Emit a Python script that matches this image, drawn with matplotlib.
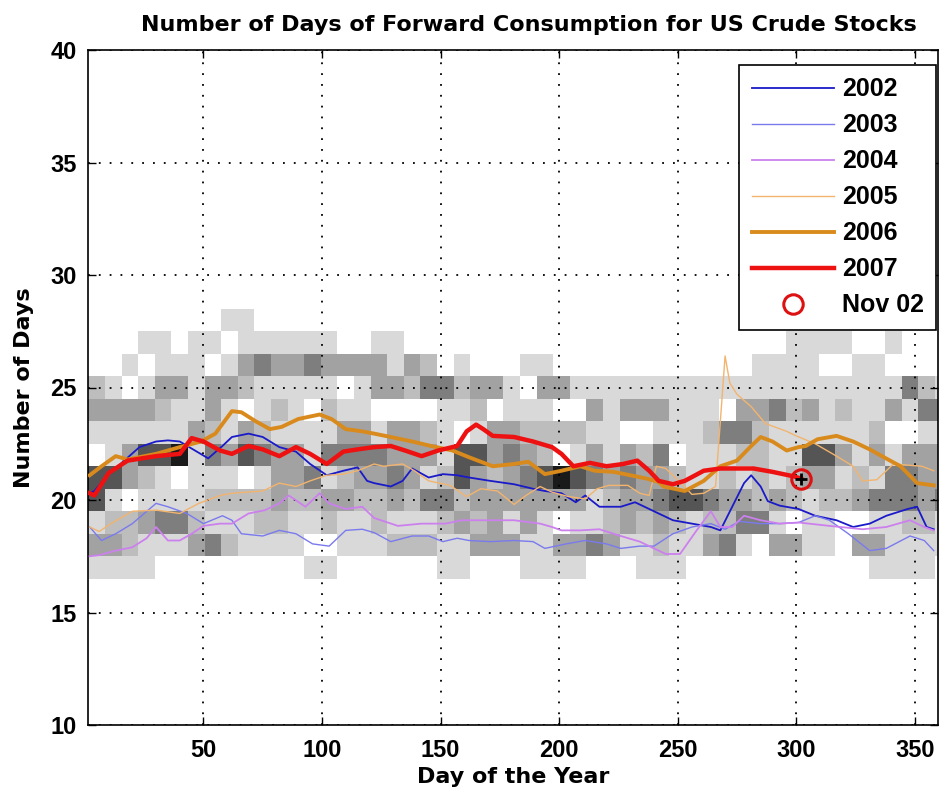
import numpy as np
import matplotlib
matplotlib.use("Agg")
import matplotlib.pyplot as plt
from matplotlib.colors import ListedColormap

plt.rcParams['font.family'] = ['Liberation Sans', 'DejaVu Sans']
plt.rcParams['font.weight'] = 'bold'

# background histogram of past years: rows are whole days of cover (28 at top .. 17),
# one digit per week (0 = empty .. 6 = densest)
hist_rows = [
    "0000000011000" "0000000000000" "0000000000000" "0000000000000",  # 28
    "0001101101111" "1100110000000" "0000000000000" "0001111001000",  # 27
    "0010111013433" "4333313201000" "1100000000000" "0111100110000",  # 26
    "2101331332111" "1101332442331" "0331111111111" "1111111111421",  # 25
    "3333211310121" "0211000011201" "1100313331110" "3342312113144",  # 24
    "1111113213211" "1133133210133" "2222110011124" "4211111120011",  # 23
    "0135561435433" "1444433315534" "3201313240111" "2211553131333",  # 22
    "5532101110133" "4123343125323" "4565434332112" "1212331214433",  # 21
    "5101111222232" "2332232442333" "3333123345543" "3232122344434",  # 20
    "1223442111221" "1211211123231" "3101123232122" "4410110011221",  # 19
    "3321113421111" "0011122211333" "1133431121134" "1033110331111",  # 18
    "1111000000000" "1100000011000" "1111000111000" "0000000011110",  # 17
]
hist_levels = [28, 27, 26, 25, 24, 23, 22, 21, 20, 19, 18, 17]

days_2002 = [2, 4, 10, 15, 23, 30, 35, 40, 44, 52, 58, 62, 69, 75, 82, 89, 95, 102, 109, 115, 119, 122,
             129, 134, 138, 145, 151, 157, 162, 171, 181, 189, 194, 201, 207, 211, 217, 226, 232, 241,
             248, 256, 264, 268, 273, 278, 281, 285, 288, 293, 301, 308, 317, 324, 331, 338, 347, 351,
             355, 358]
vals_2002 = [20.3, 20.4, 21.15, 21.6, 22.35, 22.6, 22.65, 22.6, 22.35, 21.85, 22.4, 22.8, 22.95, 22.8,
             22.35, 22.15, 21.6, 21.1, 21.3, 21.45, 20.85, 20.75, 20.6, 20.85, 21.4, 21.0, 21.15, 21.1,
             21.0, 20.85, 20.7, 20.5, 20.4, 20.3, 19.9, 20.2, 19.7, 19.7, 19.9, 19.45, 19.1, 18.95, 18.8,
             18.65, 19.7, 20.75, 21.1, 20.6, 19.95, 19.75, 19.6, 19.3, 19.1, 18.8, 18.95, 19.3, 19.6,
             19.7, 18.8, 18.7]

days_2003 = [2, 7, 13, 20, 30, 35, 43, 50, 58, 62, 66, 75, 82, 89, 96, 103, 110, 117, 122, 129, 138,
             145, 151, 157, 162, 171, 181, 189, 194, 203, 211, 220, 226, 234, 240, 248, 256, 264, 270,
             276, 285, 293, 301, 308, 314, 322, 331, 338, 348, 354, 358]
vals_2003 = [18.8, 18.2, 18.5, 18.95, 19.85, 19.7, 19.4, 18.95, 19.3, 19.1, 18.5, 18.4, 18.65, 18.5,
             18.05, 17.95, 18.65, 18.7, 18.55, 18.15, 18.4, 18.4, 18.15, 18.3, 18.2, 18.15, 18.2, 18.15,
             17.85, 18.05, 18.2, 18.05, 17.85, 17.95, 17.95, 18.5, 18.8, 18.95, 18.7, 19.05, 18.95,
             18.95, 19.0, 19.3, 19.1, 18.5, 17.75, 17.85, 18.4, 18.2, 17.75]

days_2004 = [2, 6, 13, 20, 26, 30, 35, 40, 45, 50, 57, 62, 69, 76, 82, 86, 93, 99, 103, 110, 117, 122,
             132, 142, 152, 159, 167, 174, 181, 192, 197, 201, 209, 217, 226, 234, 240, 245, 251, 258,
             264, 268, 273, 278, 285, 293, 301, 314, 328, 338, 348, 354, 358]
vals_2004 = [17.5, 17.55, 17.75, 17.9, 18.3, 18.8, 18.2, 18.2, 18.5, 18.85, 18.95, 18.95, 19.4, 19.55,
             19.85, 20.2, 19.7, 20.3, 19.85, 19.6, 19.7, 19.2, 18.85, 18.95, 18.95, 19.1, 19.1, 19.1,
             19.1, 18.95, 18.8, 18.65, 18.65, 18.7, 18.4, 18.15, 17.85, 17.6, 17.6, 18.65, 19.5, 18.8,
             18.8, 19.3, 19.1, 18.95, 19.0, 18.85, 18.7, 18.8, 19.1, 18.8, 18.65]

days_2005 = [2, 6, 11, 20, 30, 40, 48, 57, 62, 75, 82, 89, 95, 102, 109, 115, 122, 126, 134, 139, 145,
             154, 161, 167, 174, 181, 186, 192, 197, 204, 211, 216, 221, 229, 234, 238, 241, 245, 251,
             256, 261, 266, 270, 272, 275, 281, 287, 296, 300, 308, 317, 324, 328, 334, 341, 353, 358]
vals_2005 = [18.8, 18.6, 18.95, 19.5, 19.55, 19.4, 19.85, 20.2, 20.3, 20.4, 20.75, 20.6, 20.85, 21.1,
             21.15, 21.3, 21.6, 21.5, 21.6, 21.3, 20.85, 20.65, 20.15, 20.5, 20.4, 19.8, 20.2, 20.6,
             20.35, 20.15, 20.05, 20.5, 20.65, 20.65, 20.3, 20.2, 21.5, 21.4, 20.8, 20.25, 20.3, 20.6,
             26.4, 25.2, 24.7, 24.15, 23.4, 23.05, 22.85, 22.5, 21.95, 21.5, 20.85, 20.9, 21.6, 21.5,
             21.3]

days_2006 = [2, 7, 13, 18, 30, 40, 49, 55, 62, 66, 72, 78, 83, 90, 99, 104, 110, 117, 122, 129, 138,
             146, 155, 162, 172, 181, 187, 194, 201, 209, 215, 223, 230, 237, 242, 244, 253, 261, 268,
             275, 281, 285, 290, 296, 301, 304, 309, 317, 324, 331, 337, 344, 351, 358]
vals_2006 = [21.1, 21.5, 21.95, 21.8, 22.05, 22.35, 22.6, 22.95, 23.95, 23.9, 23.5, 23.15, 23.25, 23.6,
             23.8, 23.6, 23.15, 23.05, 22.95, 22.8, 22.6, 22.4, 22.2, 21.9, 21.5, 21.6, 21.7, 21.15,
             21.3, 21.5, 21.3, 21.25, 21.1, 20.95, 20.8, 20.6, 20.4, 20.85, 21.5, 21.75, 22.4, 22.8,
             22.6, 22.2, 22.35, 22.4, 22.7, 22.85, 22.6, 22.25, 21.9, 21.5, 20.75, 20.65]

days_2007 = [2, 4, 10, 18, 30, 40, 45, 50, 57, 62, 69, 75, 82, 89, 95, 102, 109, 115, 122, 129, 135,
             142, 149, 157, 161, 165, 168, 172, 181, 189, 197, 201, 206, 213, 220, 227, 233, 238, 242,
             248, 253, 261, 268, 282, 290, 299, 302]
vals_2007 = [20.3, 20.2, 21.2, 21.75, 21.95, 22.05, 22.75, 22.6, 22.2, 22.05, 22.4, 22.25, 21.95, 22.35,
             22.05, 21.6, 22.15, 22.25, 22.35, 22.4, 22.2, 21.95, 22.2, 22.4, 23.05, 23.35, 23.15, 22.85,
             22.8, 22.6, 22.35, 22.05, 21.5, 21.65, 21.5, 21.6, 21.75, 21.3, 20.85, 20.7, 20.85, 21.3,
             21.4, 21.4, 21.25, 21.05, 20.95]

latest_day = 302
latest_value = 20.95
latest_label = "Nov 02"

fig = plt.figure(figsize=(9.39, 7.99), dpi=100)
ax = fig.add_axes([88 / 939, 1 - 725 / 799, 850 / 939, 675 / 799])

# histogram background
counts = np.array([[int(c) for c in row] for row in hist_rows])[::-1]
levels = np.array(hist_levels)[::-1]
x_edges = 1.5 + 7 * np.arange(counts.shape[1] + 1)
y_edges = np.append(levels - 0.5, levels[-1] + 0.5)
grays = ListedColormap(['#ffffff', '#d9d9d9', '#bdbdbd', '#a2a2a2', '#7e7e7e', '#555555', '#1a1a1a'])
ax.pcolormesh(x_edges, y_edges, counts, cmap=grays, vmin=-0.5, vmax=6.5,
              shading='flat', antialiased=False, zorder=1)

ax.plot(days_2002, vals_2002, color='#1a1ac8', lw=1.3, label='2002', zorder=3)
ax.plot(days_2003, vals_2003, color='#7a7aee', lw=1.0, label='2003', zorder=3)
ax.plot(days_2004, vals_2004, color='#cc80ee', lw=1.3, label='2004', zorder=3)
ax.plot(days_2005, vals_2005, color='#f2b46e', lw=1.0, label='2005', zorder=3)
ax.plot(days_2006, vals_2006, color='#d98a1c', lw=2.8, label='2006', zorder=4)
ax.plot(days_2007, vals_2007, color='#ee1111', lw=3.2, label='2007', zorder=5)
ax.plot([latest_day], [latest_value], 'o', mfc='none', mec='#dd1111', ms=14, mew=2.2,
        label=latest_label, zorder=6)
ax.plot([latest_day], [latest_value], '+', color='black', ms=8, mew=2, zorder=7)

ax.set_xlim(1.3, 359.8)
ax.set_ylim(10, 40)
ax.set_xticks([50, 100, 150, 200, 250, 300, 350])
ax.set_yticks([10, 15, 20, 25, 30, 35, 40])
ax.tick_params(direction='in', top=True, right=True, length=6, width=1, labelsize=17)
ax.tick_params(axis='x', pad=10)
ax.tick_params(axis='y', pad=8)
for lab in ax.get_xticklabels() + ax.get_yticklabels():
    lab.set_fontweight('bold')
ax.set_axisbelow('line')
ax.grid(True, color='black', linestyle=(0, (1, 5)), linewidth=1.3)
for sp in ax.spines.values():
    sp.set_linewidth(1.2)

label_font = {'family': ['DejaVu Sans'], 'size': 16, 'weight': 'bold'}
ax.set_title('Number of Days of Forward Consumption for US Crude Stocks',
             fontdict=label_font, pad=14, x=0.519)
ax.set_xlabel('Day of the Year', fontdict=label_font, labelpad=4)
ax.set_ylabel('Number of Days', fontdict=label_font, labelpad=12)

leg = ax.legend(loc='upper right', bbox_to_anchor=(0.998, 0.978), borderaxespad=0,
                handlelength=3.3, labelspacing=0.48, borderpad=0.5, handletextpad=0.3,
                fancybox=False, framealpha=1, edgecolor='black', prop={'weight': 'bold', 'size': 18})
leg.get_frame().set_linewidth(1.2)

fig.savefig('out.png', dpi=100)
